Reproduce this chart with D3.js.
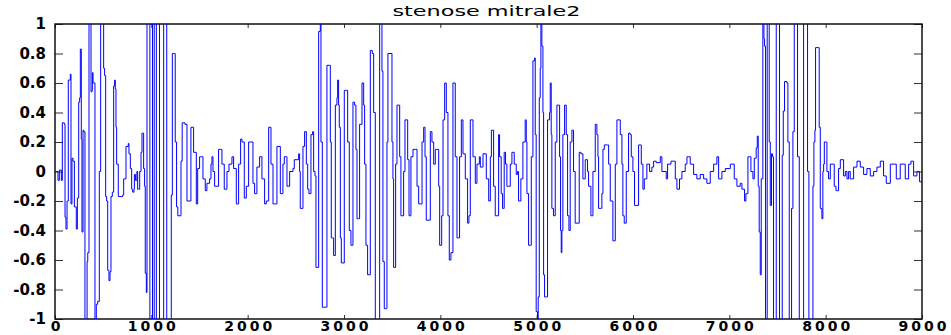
<!DOCTYPE html>
<html>
<head>
<meta charset="utf-8">
<script src="https://cdn.jsdelivr.net/npm/d3@7"></script>
<style>
    body { margin: 0; background: #fff; }
    .tick text { font-family: "DejaVu Sans", sans-serif; font-weight: bold; font-size: 15px; fill: #000; }
    .tick line { stroke: #333; }
</style>
</head>
<body>
<svg id="graphSignal"></svg>
<script>
const chartTitle = "stenose mitrale2";
const xTicks = [0, 1000, 2000, 3000, 4000, 5000, 6000, 7000, 8000, 9000];
const yTicks = [-1, -0.8, -0.6, -0.4, -0.2, 0, 0.2, 0.4, 0.6, 0.8, 1];

// sample index / amplitude (values past +-1 get clipped by the axes)
const sampleIdx = [
    0, 28, 31, 42, 45, 62, 66, 73, 76, 97, 104, 114, 125, 131, 138, 159, 166, 176, 187, 201,
    221, 232, 246, 256, 263, 273, 280, 291, 298, 311, 325, 333, 340, 353, 370, 374, 384, 388, 395, 415,
    425, 429, 443, 460, 474, 498, 505, 515, 526, 536, 547, 560, 571, 581, 595, 609, 619, 626, 633, 640,
    657, 702, 713, 727, 737, 761, 768, 782, 796, 806, 820, 824, 835, 850, 858, 868, 879, 893, 903, 913,
    920, 930, 937, 948, 955, 975, 985, 1005, 1012, 1022, 1030, 1047, 1052, 1075, 1085, 1112, 1128, 1150, 1160, 1200,
    1207, 1218, 1240, 1248, 1262, 1275, 1300, 1308, 1320, 1349, 1370, 1391, 1411, 1436, 1439, 1467, 1481, 1501, 1522, 1536,
    1560, 1577, 1605, 1619, 1629, 1640, 1657, 1681, 1698, 1719, 1733, 1757, 1785, 1806, 1837, 1854, 1882, 1906, 1927, 1941,
    1965, 1986, 2010, 2031, 2055, 2072, 2096, 2124, 2148, 2176, 2193, 2218, 2235, 2242, 2263, 2287, 2304, 2325, 2339, 2356,
    2366, 2380, 2401, 2408, 2425, 2436, 2460, 2470, 2484, 2512, 2529, 2539, 2546, 2564, 2574, 2591, 2609, 2623, 2636, 2657,
    2674, 2685, 2699, 2709, 2719, 2737, 2754, 2761, 2775, 2806, 2823, 2847, 2858, 2868, 2882, 2892, 2910, 2927, 2934, 2944,
    2951, 2962, 2972, 3003, 3027, 3038, 3055, 3072, 3093, 3110, 3124, 3135, 3152, 3162, 3187, 3204, 3214, 3228, 3245, 3273,
    3294, 3308, 3325, 3359, 3370, 3383, 3394, 3404, 3418, 3439, 3446, 3456, 3488, 3498, 3508, 3515, 3529, 3536, 3550, 3567,
    3578, 3591, 3612, 3619, 3633, 3654, 3661, 3675, 3688, 3695, 3716, 3740, 3758, 3775, 3792, 3810, 3827, 3841, 3854, 3872,
    3896, 3913, 3931, 3948, 3965, 3983, 3993, 4007, 4014, 4028, 4045, 4062, 4079, 4093, 4110, 4131, 4145, 4155, 4173, 4190,
    4200, 4218, 4235, 4259, 4283, 4297, 4311, 4328, 4339, 4363, 4380, 4405, 4415, 4443, 4477, 4502, 4519, 4530, 4546, 4553,
    4570, 4587, 4605, 4615, 4632, 4646, 4663, 4677, 4691, 4708, 4726, 4743, 4753, 4767, 4788, 4802, 4812, 4836, 4857, 4881,
    4892, 4899, 4916, 4933, 4944, 4961, 4978, 4985, 4995, 5009, 5016, 5027, 5037, 5044, 5054, 5065, 5072, 5082, 5099, 5113,
    5134, 5141, 5151, 5158, 5175, 5193, 5210, 5227, 5238, 5248, 5255, 5262, 5272, 5290, 5307, 5321, 5335, 5348, 5366, 5383,
    5400, 5418, 5442, 5459, 5480, 5504, 5528, 5539, 5563, 5584, 5608, 5625, 5636, 5643, 5660, 5670, 5677, 5688, 5702, 5736,
    5747, 5764, 5791, 5805, 5816, 5833, 5857, 5868, 5885, 5895, 5909, 5930, 5954, 5971, 5982, 5999, 6016, 6034, 6058, 6075,
    6086, 6103, 6117, 6144, 6172, 6196, 6214, 6241, 6283, 6300, 6345, 6359, 6394, 6421, 6439, 6456, 6483, 6508, 6542, 6560,
    6577, 6594, 6629, 6663, 6698, 6733, 6767, 6802, 6837, 6871, 6889, 6906, 6923, 6958, 7010, 7027, 7051, 7079, 7113, 7131,
    7158, 7172, 7193, 7210, 7224, 7245, 7259, 7279, 7290, 7300, 7310, 7321, 7331, 7348, 7359, 7366, 7376, 7387, 7393, 7404,
    7414, 7425, 7438, 7449, 7459, 7473, 7487, 7508, 7521, 7535, 7549, 7560, 7573, 7598, 7608, 7622, 7636, 7646, 7660, 7674,
    7698, 7708, 7726, 7750, 7771, 7798, 7812, 7826, 7854, 7868, 7878, 7888, 7895, 7923, 7933, 7944, 7961, 7971, 7979, 7986,
    8006, 8013, 8030, 8048, 8065, 8082, 8089, 8107, 8124, 8134, 8152, 8169, 8186, 8204, 8221, 8238, 8255, 8273, 8290, 8325,
    8359, 8394, 8428, 8463, 8498, 8532, 8567, 8601, 8629, 8671, 8712, 8733, 8774, 8826, 8861, 8885, 8913, 8947, 8975, 8999
];
const amplitude = [
    0, 0, -0.06, -0.06, 0.01, 0.01, -0.06, -0.06, 0.33, 0.32, -0.31, -0.39, -0.2, -0.2, 0.62, 0.66, -0.22, 0.09, 0.07, -0.24,
    -0.39, -0.18, 0.47, 0.5, 0.83, 0.22, -0.41, 0.28, 0.27, -1.05, -1.05, -0.61, -0.55, 1.05, 1.05, 0.54, 0.55, 0.67, 0.6, -1.05,
    -1.05, -0.9, -0.88, 0, 1.05, 1.05, 0.7, 0.65, -0.17, -0.2, -0.67, -0.74, -0.68, -0.17, -0.14, 0.58, 0.62, 0.56, 0.3, 0.05,
    -0.17, -0.16, -0.05, -0.05, 0.17, 0.19, 0.12, 0.02, -0.12, -0.14, -0.12, -0.02, -0.06, 0, -0.12, -0.12, 0, 0.13, 0.26, 0.26,
    0.02, -0.1, -0.69, -0.82, 1.05, 1.05, -1.05, -1.05, 1.05, 1.05, -1.05, -1.05, 1.05, 1.05, -1.05, -1.05, 1.05, 1.05, -1.05, -1.05,
    -0.16, 0.8, 0.8, 0.2, -0.24, -0.3, -0.3, 0.07, 0.33, 0.32, -0.2, -0.2, 0.3, 0.3, 0.13, -0.22, 0.02, 0.1, 0.1, -0.05,
    -0.13, -0.08, -0.05, 0.05, 0.1, 0, -0.1, -0.1, 0.15, 0.15, 0.05, -0.12, 0, 0.05, 0.1, 0.02, -0.22, 0.05, 0.22, 0.2,
    -0.18, -0.1, 0.2, 0.2, -0.08, -0.15, 0.03, 0.1, -0.05, -0.22, -0.2, 0.3, 0.3, 0.05, -0.22, -0.22, 0.17, 0.17, -0.15, -0.15,
    0.05, 0.1, 0.1, -0.1, -0.1, 0, 0, 0.02, 0.08, 0.08, 0.12, 0, -0.25, -0.25, 0.17, 0.27, 0.05, -0.12, -0.15, 0.25,
    0.27, 0, -0.03, -0.65, -0.65, 0.95, 1.05, 0.2, -0.92, -0.92, 0.72, 0.72, 0.2, -0.45, -0.45, -0.57, 0.45, 0.5, 0.62, 0.45,
    0.3, -0.45, -0.62, 0.55, 0.55, 0.2, -0.4, -0.5, 0.47, 0.45, 0.15, -0.32, -0.32, 0.32, 0.6, 0.45, 0.05, -0.5, -0.7, 0.82,
    0.8, 0.4, -1.05, -1.05, 1.05, 1.05, 0.68, -0.61, -0.93, -0.93, 0.2, 0.8, 0.8, 0.2, -0.05, -0.65, -0.65, 0.05, 0.45, 0.45,
    0.1, -0.3, -0.3, 0, 0.35, 0.35, 0.08, -0.3, -0.3, 0.1, 0.15, 0.15, -0.1, -0.22, -0.22, 0.2, 0.3, 0.1, -0.33, -0.33,
    0.27, 0.2, 0.05, 0.15, 0.15, -0.1, -0.5, -0.5, -0.3, 0.35, 0.6, 0.4, -0.3, -0.6, -0.55, 0.6, 0.6, 0.1, -0.45, -0.45,
    0.1, 0.35, 0.12, -0.05, -0.35, -0.3, 0.35, 0.35, 0.1, -0.08, 0.05, 0.1, 0.03, 0.12, -0.05, -0.2, 0.1, 0.28, 0.28, -0.1,
    -0.3, -0.3, 0.25, 0.1, -0.15, -0.25, 0.13, 0.05, -0.1, -0.1, 0.05, 0.13, 0.13, 0.05, -0.02, 0, -0.2, -0.05, 0.2, 0.35,
    0.2, -0.15, -0.5, -0.5, 0.1, 0.75, 0.77, 0.25, -0.95, -1.02, -0.85, 0.5, 0.7, 1.02, 0.85, 0.4, -0.7, -0.85, -0.85, 0.35,
    0.4, 0.6, 0.25, -0.25, -0.3, 0.2, 0.45, 0.45, 0.1, -0.4, -0.55, -0.4, 0.25, 0.45, 0.25, -0.3, -0.4, 0.2, 0.28, 0,
    -0.35, -0.35, 0.13, 0.12, -0.05, 0.08, 0, -0.1, -0.3, 0, 0.32, 0.25, 0.1, -0.25, -0.25, -0.25, -0.15, 0.15, 0.18, 0.18,
    0.05, -0.2, -0.47, -0.47, 0.05, 0.35, 0.35, 0.25, 0.05, -0.3, -0.35, 0, 0.26, 0.25, 0.1, 0, -0.23, -0.23, 0.18, 0.18,
    0.05, -0.12, -0.05, 0.05, 0, 0.03, 0.07, 0.06, 0.1, 0, -0.05, 0.05, 0.07, 0.07, -0.05, -0.12, -0.05, 0, 0.05, 0.1,
    0.1, 0.05, -0.02, -0.05, -0.02, -0.05, -0.08, 0, 0.05, 0.1, -0.05, -0.05, 0, 0.02, 0.05, 0.05, -0.05, -0.1, -0.08, -0.12,
    -0.2, -0.15, 0.1, 0.1, 0, -0.05, 0.09, 0.16, 0.24, -0.1, -0.41, -0.7, -0.05, 1.05, 0.9, 0.85, -1.05, -1.05, 1.05, 1.05,
    0.2, -0.23, 0.12, 0.1, -1.05, -1.05, 1.05, 1.05, -1.05, -1.05, 0.11, 0.41, 0.61, 0.6, 0.2, -1.05, -1.05, -0.25, 0.27, 1.05,
    1.05, 0.1, -1.05, -1.05, 1.05, 1.05, 0, -1.05, -1.05, -0.1, 0.2, 0.28, 0.84, 0.84, 0.3, -0.25, -0.32, 0, 0.05, 0.2,
    0.2, 0, -0.05, 0.05, 0.05, 0.05, -0.1, -0.13, -0.13, 0.02, 0.08, 0.08, -0.03, 0, -0.05, 0, -0.05, -0.05, 0.03, 0.07,
    0.03, -0.02, 0.02, -0.03, 0, 0.03, 0.07, -0.03, -0.08, 0.05, 0.05, -0.05, 0.05, -0.05, 0.05, 0.07, -0.03, 0, -0.07, -0.06
];

function SignalPlot() {
    let self = this;

    function initPlot() {
        let width = 951, height = 335;
        let margin = {top: 24, right: 29, bottom: 16, left: 55};
        let plotW = width - margin.left - margin.right;
        let plotH = height - margin.top - margin.bottom;

        self.graph = d3.select('#graphSignal')
            .attr("width", width)
            .attr("height", height);
        self.graph.append("rect")
            .attr("width", width).attr("height", height).style("fill", "#fff");

        self.x = d3.scaleLinear().domain([0, 9000]).range([0, plotW]);
        self.y = d3.scaleLinear().domain([-1, 1]).range([plotH, 0]);

        self.plot = self.graph.append("g")
            .attr("transform", "translate(" + margin.left + "," + margin.top + ")");

        self.plot.append("clipPath").attr("id", "plotClip")
            .append("rect").attr("width", plotW).attr("height", plotH);

        // matlab style: ticks point inward on all four sides
        let xAxis = self.plot.append("g")
            .attr("transform", "translate(0," + plotH + ")")
            .call(d3.axisBottom(self.x).tickValues(xTicks).tickSize(-4).tickPadding(2)
                .tickFormat(d3.format("d")));
        xAxis.selectAll("text")
            .style("font-size", "14px")
            .style("letter-spacing", "3px")
            .attr("dx", "1.5px");

        self.plot.append("g")
            .call(d3.axisTop(self.x).tickValues(xTicks).tickSize(-4).tickFormat(""));

        self.plot.append("g")
            .call(d3.axisLeft(self.y).tickValues(yTicks).tickSize(-8).tickPadding(9)
                .tickFormat(function (d) { return String(d); }));

        self.plot.append("g")
            .attr("transform", "translate(" + plotW + ",0)")
            .call(d3.axisRight(self.y).tickValues(yTicks).tickSize(-8).tickFormat(""));

        self.plot.selectAll(".domain").remove();

        self.plot.append("rect")
            .attr("width", plotW).attr("height", plotH)
            .style("fill", "none").style("stroke", "#111").style("stroke-width", 1.5);

        self.graph.append("text")
            .attr("x", margin.left + plotW / 2 - 2)
            .attr("y", 16)
            .attr("text-anchor", "middle")
            .attr("textLength", 188)
            .attr("lengthAdjust", "spacingAndGlyphs")
            .style("font-family", "DejaVu Sans, sans-serif")
            .style("font-size", "14px")
            .text(chartTitle);
    }

    function plotSignal() {
        let points = sampleIdx.map((s, i) => ({s: s, v: amplitude[i]}));
        // held samples -> staircase trace like the original
        let line = d3.line()
            .curve(d3.curveStepAfter)
            .x(function (d) { return self.x(d.s); })
            .y(function (d) { return self.y(d.v); });

        self.plot.append("path")
            .datum(points)
            .attr("clip-path", "url(#plotClip)")
            .attr("d", line)
            .style("fill", "none")
            .style("stroke", "#0000ff")
            .style("stroke-width", 1);
    }
    return {
        initPlot, plotSignal
    }
}

let chart = SignalPlot();
chart.initPlot();
chart.plotSignal();
</script>
</body>
</html>
